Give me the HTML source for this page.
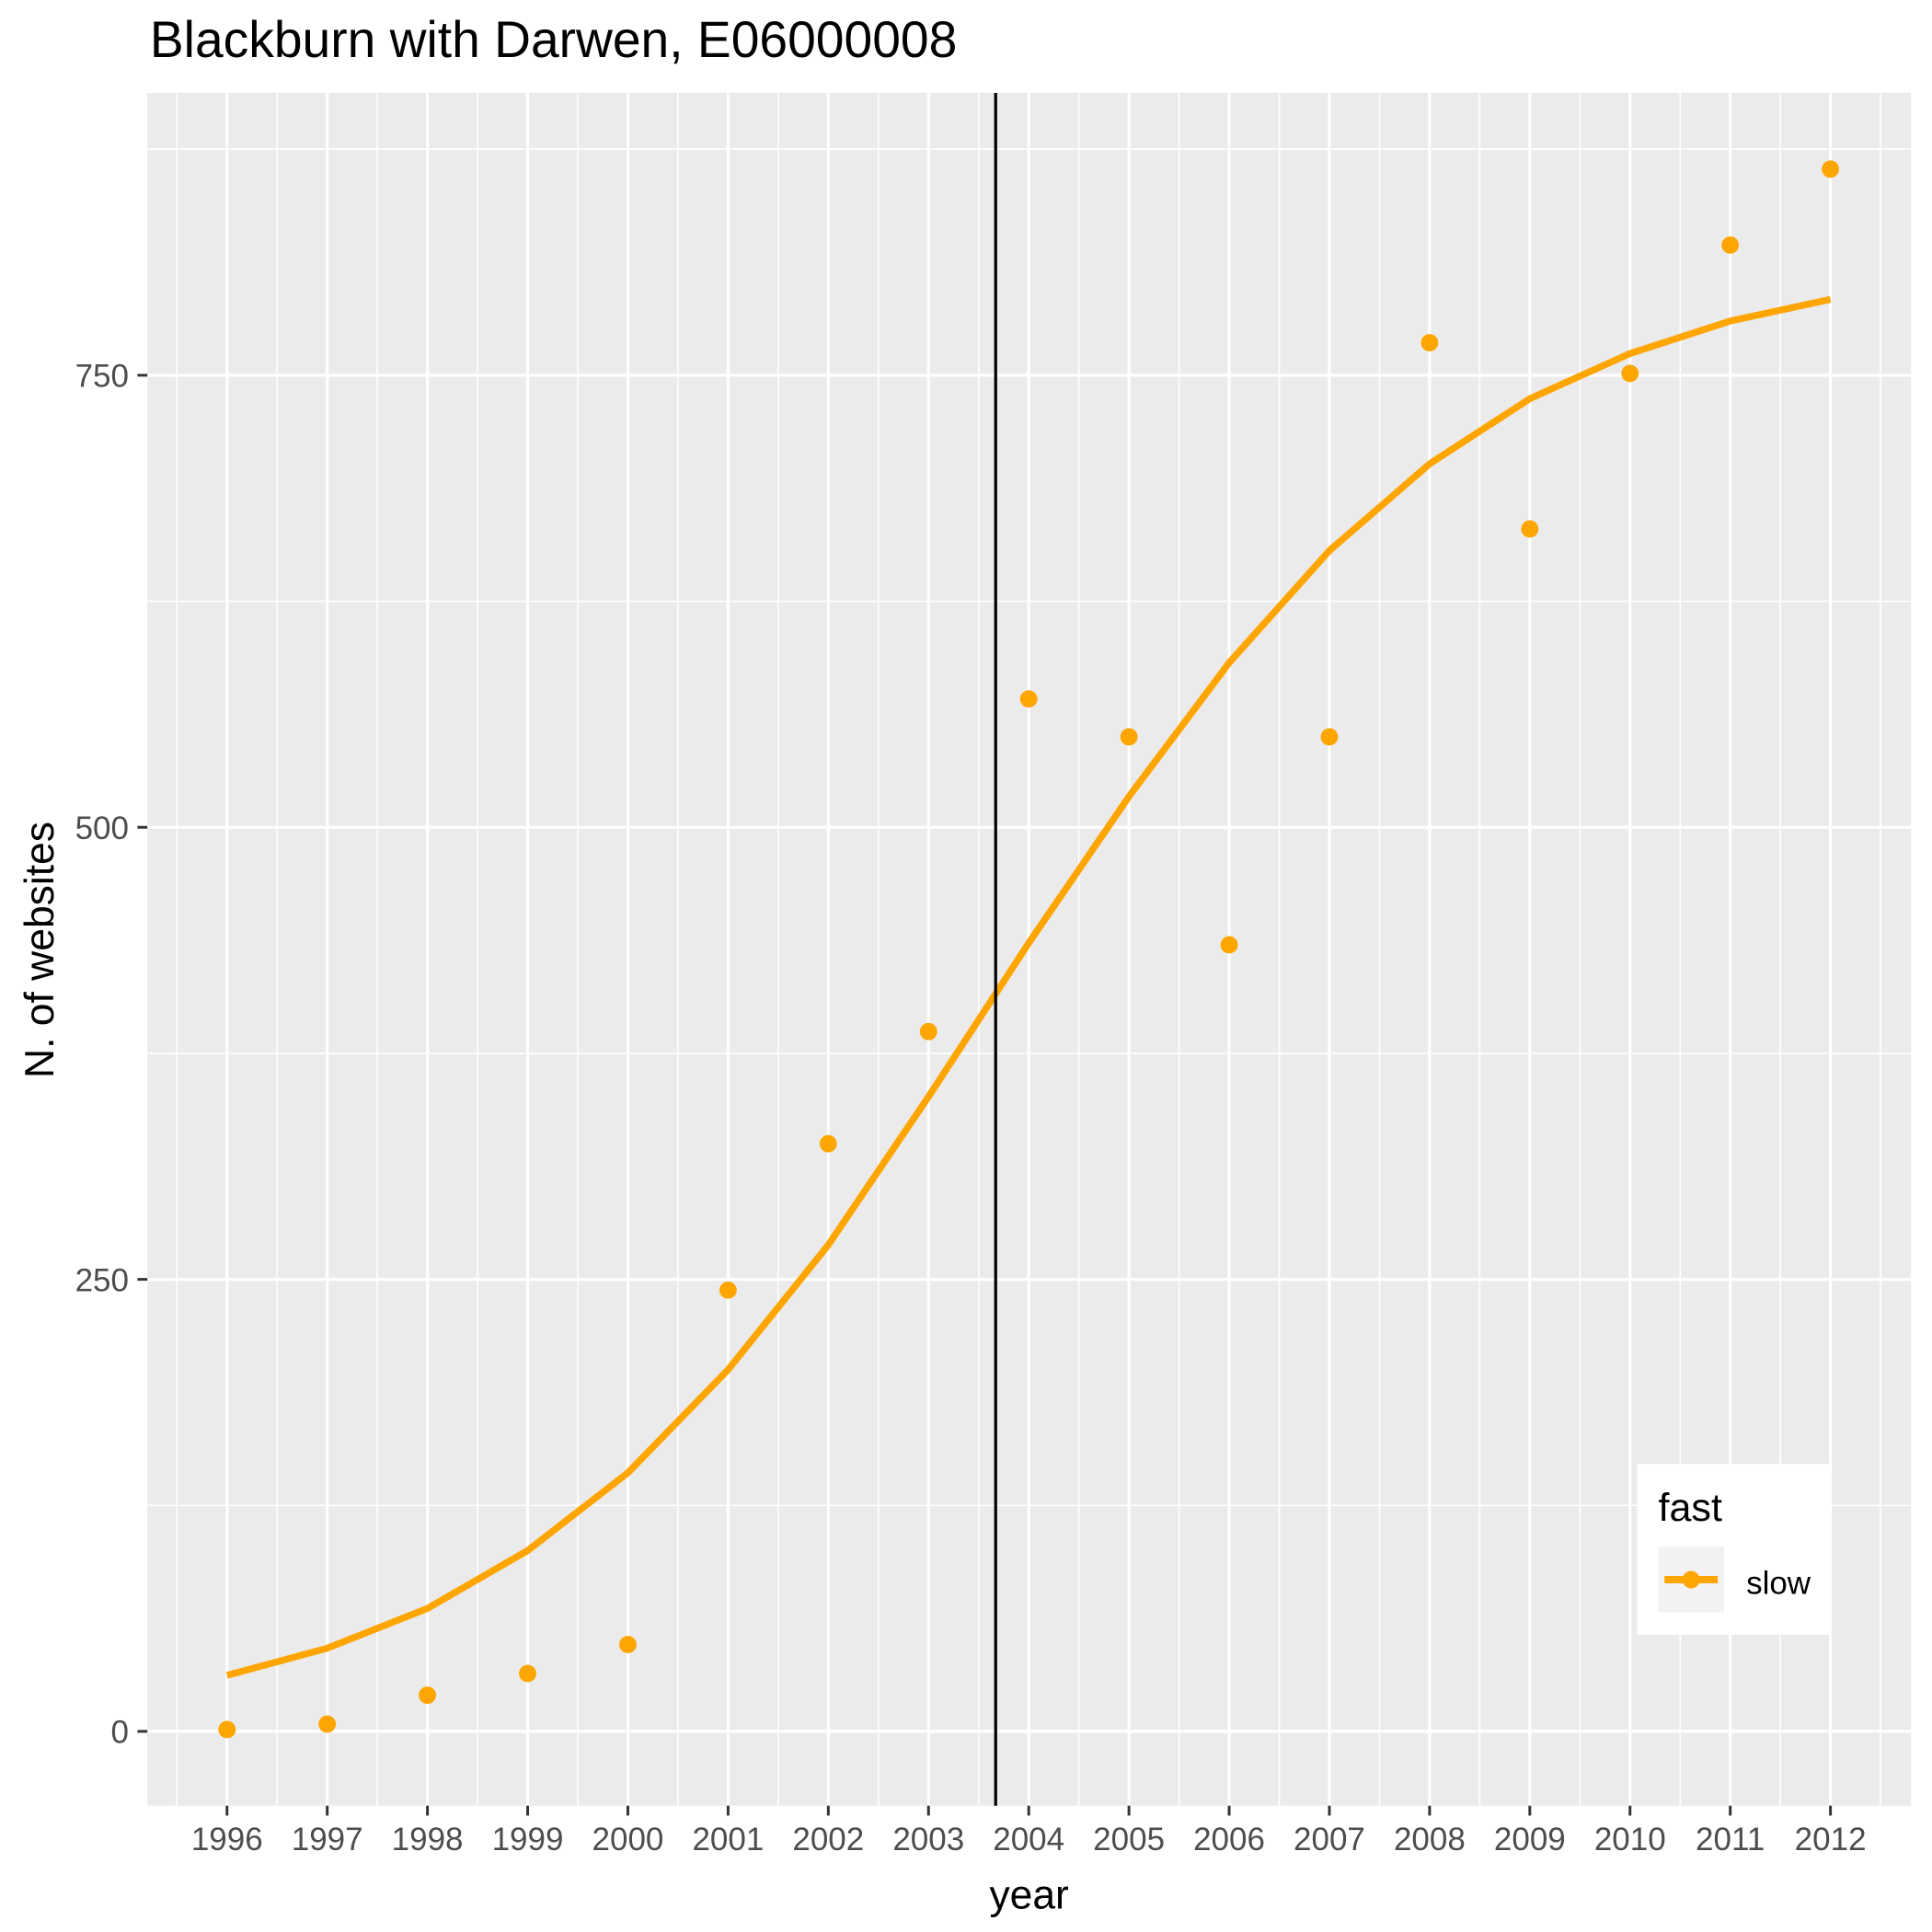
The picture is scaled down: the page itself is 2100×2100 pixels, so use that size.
<!DOCTYPE html>
<html><head><meta charset="utf-8"><style>
html,body{margin:0;padding:0;background:#fff;}
svg{display:block;font-family:"Liberation Sans",Arial,sans-serif;}
</style></head><body>
<svg id="chart" width="2100" height="2100" viewBox="0 0 1560 1560" xmlns="http://www.w3.org/2000/svg">
<text x="121" y="46" font-size="41" fill="#000">Blackburn with Darwen, E06000008</text>
<rect x="119" y="75" width="1424" height="1383" fill="#ebebeb"/>
<g id="grid"></g>
<g id="marks"></g>
<g id="axes"></g>
<text x="831" y="1541" font-size="33" text-anchor="middle">year</text>
<text transform="translate(43,767) rotate(-90)" font-size="33" text-anchor="middle">N. of websites</text>
<g>
<rect x="1322" y="1182" width="155" height="138" fill="#fff"/>
<text x="1339" y="1228" font-size="32">fast</text>
<rect x="1339" y="1249" width="53" height="53" fill="#f2f2f2"/>
<line x1="1344" y1="1275.5" x2="1387" y2="1275.5" stroke="#ffa500" stroke-width="6"/>
<circle cx="1365.5" cy="1275.5" r="7" fill="#ffa500"/>
<text x="1410" y="1287" font-size="26">slow</text>
</g>
</svg>
<script>
const years = [1996,1997,1998,1999,2000,2001,2002,2003,2004,2005,2006,2007,2008,2009,2010,2011,2012];
const pointValues = [1,4,20,32,48,244,325,387,571,550,435,550,768,665,751,822,864];
const smoothValues = [31,46,68,100,143,200,269,351,436,517,591,653,701,737,762,780,792];
const yTicks = [0,250,500,750];
const yMinorTicks = [125,375,625,875];
const vlineYear = 2003.67;

const NS = "http://www.w3.org/2000/svg";
const x = v => 183.3 + (v - 1996) * (1478 - 183.3) / 16;
const y = v => 1398 - v * (1398 - 303) / 750;
function mk(tag, attrs, parent) {
  const el = document.createElementNS(NS, tag);
  for (const k in attrs) el.setAttribute(k, attrs[k]);
  parent.appendChild(el);
  return el;
}
const grid = document.getElementById('grid');
const marks = document.getElementById('marks');
const axes = document.getElementById('axes');

yMinorTicks.forEach(v => {
  const l = mk('line', {x1:119, x2:1543, y1:y(v), y2:y(v), stroke:'#fff', 'stroke-width':1.2}, grid);
  
  
});
for (let i = 0; i <= 17; i++) {
  const xv = 1995.5 + i;
  const l = mk('line', {x1:x(xv), x2:x(xv), y1:75, y2:1458, stroke:'#fff', 'stroke-width':1.2}, grid);
  
  
}
yTicks.forEach(v => {
  const l = mk('line', {x1:119, x2:1543, y1:y(v), y2:y(v), stroke:'#fff', 'stroke-width':2.4}, grid);
  
  
  const t = mk('line', {x1:111, x2:119, y1:y(v), y2:y(v), stroke:'#333', 'stroke-width':2.2}, axes);
  
  
  const tx = mk('text', {x:104, y:y(v)+9.5, 'font-size':26, 'text-anchor':'end', fill:'#4d4d4d'}, axes);
  tx.textContent = v;
  
  
});
years.forEach(v => {
  const l = mk('line', {x1:x(v), x2:x(v), y1:75, y2:1458, stroke:'#fff', 'stroke-width':2.4}, grid);
  
  
  const t = mk('line', {x1:x(v), x2:x(v), y1:1458, y2:1466, stroke:'#333', 'stroke-width':2.2}, axes);
  
  
  const tx = mk('text', {x:x(v), y:1494, 'font-size':26, 'text-anchor':'middle', fill:'#4d4d4d'}, axes);
  tx.textContent = v;
  
  
});
const path = mk('polyline', {points: years.map((yr,i)=>x(yr)+','+y(smoothValues[i])).join(' '), fill:'none', stroke:'#ffa500', 'stroke-width':5.5}, marks);


years.forEach((yr,i) => {
  const c = mk('circle', {cx:x(yr), cy:y(pointValues[i]), r:7, fill:'#ffa500'}, marks);
  
  
});
const vl = mk('line', {x1:x(vlineYear), x2:x(vlineYear), y1:75, y2:1458, stroke:'#000', 'stroke-width':2.4}, marks);


</script>
</body></html>
